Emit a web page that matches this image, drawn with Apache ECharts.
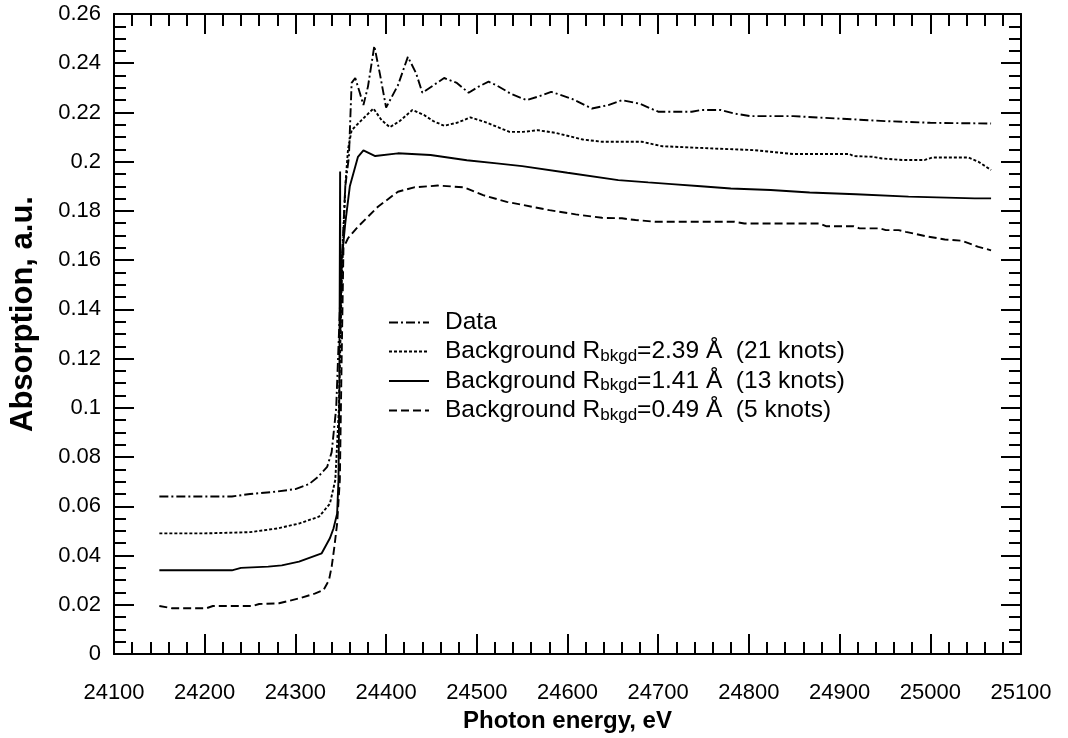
<!DOCTYPE html>
<html>
<head>
<meta charset="utf-8">
<script src="https://cdn.jsdelivr.net/npm/echarts@6/dist/echarts.min.js"></script>
<style>html,body{margin:0;padding:0;background:#fff}#c{width:1068px;height:738px}</style>
</head>
<body>
<div id="c"></div>
<script>
// ---- data (photon energy in eV, absorption in a.u.) ----
const seriesNames = [
  'Data',
  'Background Rbkgd=2.39 Å  (21 knots)',
  'Background Rbkgd=1.41 Å  (13 knots)',
  'Background Rbkgd=0.49 Å  (5 knots)'
];
const dataE = [24150,24200,24230,24250,24280,24300,24315,24325,24335,24340,24345,24350,24355,24359,24362,24366,24371,24375,24380,24387,24393,24400,24413,24424,24433,24440,24452,24464,24478,24491,24502,24513,24522,24538,24555,24568,24582,24605,24627,24645,24660,24680,24700,24737,24747,24769,24785,24802,24849,24900,24950,25000,25067];
const dataV = [0.064,0.064,0.064,0.065,0.066,0.067,0.069,0.072,0.076,0.082,0.1,0.15,0.19,0.202,0.232,0.234,0.228,0.223,0.2305,0.247,0.236,0.222,0.231,0.2426,0.236,0.228,0.231,0.234,0.232,0.228,0.2305,0.2325,0.231,0.2275,0.225,0.2265,0.2284,0.2255,0.2216,0.223,0.225,0.2235,0.2203,0.2203,0.221,0.221,0.2195,0.2185,0.2185,0.2175,0.2165,0.2158,0.2155];

const bg21E = [24150,24200,24250,24280,24304,24326,24338,24344,24348,24351,24355,24358,24362,24373,24386,24395,24404,24415,24429,24442,24452,24464,24478,24493,24510,24522,24536,24551,24567,24587,24617,24638,24682,24704,24758,24806,24849,24911,24915,24936,24947,24969,24994,25002,25042,25053,25067];
const bg21V = [0.049,0.049,0.0495,0.051,0.053,0.0558,0.061,0.0707,0.1,0.15,0.19,0.205,0.2128,0.2169,0.2216,0.2169,0.214,0.2165,0.221,0.2189,0.2165,0.2146,0.2158,0.218,0.216,0.2142,0.2121,0.2121,0.2128,0.2117,0.209,0.2081,0.2081,0.2063,0.2054,0.2047,0.2031,0.2031,0.2023,0.202,0.2013,0.2007,0.2007,0.2017,0.2017,0.200,0.1966];

const bg13E = [24150,24230,24240,24270,24285,24304,24329,24338,24342,24346,24347.5,24348.5,24349.3,24349.6,24351,24355,24360,24369,24375,24388,24413,24449,24489,24522,24550,24600,24656,24689,24715,24747,24780,24824,24867,24918,24976,25049,25067];
const bg13V = [0.034,0.034,0.035,0.0355,0.036,0.0375,0.0409,0.047,0.051,0.057,0.0707,0.11,0.196,0.13,0.16,0.175,0.19,0.202,0.2046,0.2023,0.2034,0.2027,0.2006,0.1993,0.1982,0.1955,0.1925,0.1916,0.1909,0.190,0.1891,0.1885,0.1875,0.1868,0.1858,0.1851,0.1851];

const bg5E = [24150,24164,24202,24209,24253,24260,24282,24304,24322,24331,24337,24340,24343,24346,24349,24351,24353,24358,24369,24391,24413,24431,24457,24486,24507,24533,24551,24580,24609,24638,24660,24675,24697,24784,24795,24878,24885,24915,24922,24944,24951,24965,24973,24994,25016,25035,25053,25067];
const bg5V = [0.0195,0.0186,0.0186,0.0195,0.0195,0.0203,0.0206,0.0226,0.0246,0.026,0.03,0.0355,0.0436,0.053,0.0707,0.12,0.165,0.1689,0.1736,0.1817,0.1878,0.1896,0.1903,0.1896,0.1864,0.1837,0.1824,0.1803,0.1786,0.1772,0.177,0.1763,0.1756,0.1756,0.1749,0.1749,0.1738,0.1738,0.1729,0.1729,0.1722,0.1722,0.1715,0.1698,0.1684,0.1679,0.1654,0.164];

const xMin = 24100, xMax = 25100, xStep = 100;
const yMin = 0, yMax = 0.26, yStep = 0.02;

// ---- chart ----
const FONT = 'Liberation Sans';
const pairs = (E, V) => E.map((e, i) => [e, V[i]]);
const lineTypes = [[9,3,2,3], [3,2], 'solid', [8,4]];
const sets = [[dataE, dataV], [bg21E, bg21V], [bg13E, bg13V], [bg5E, bg5V]];

const frameLine = () => ({ show: true, onZero: false, lineStyle: { color: '#000', width: 2 } });
const tickCfg = () => ({ show: true, inside: true, length: 20, lineStyle: { color: '#000', width: 2 } });
const minorCfg = (n) => ({ show: true, splitNumber: n, length: 12, lineStyle: { color: '#000', width: 2 } });

const chart = echarts.init(document.getElementById('c'), null, { renderer: 'canvas' });
chart.setOption({
  animation: false,
  backgroundColor: '#fff',
  grid: { left: 113, right: 47, top: 14, bottom: 84, containLabel: false },
  xAxis: [{
    type: 'value', min: xMin, max: xMax, interval: xStep, position: 'bottom',
    name: 'Photon energy, eV', nameLocation: 'middle', nameGap: 53,
    nameTextStyle: { fontFamily: FONT, fontSize: 24, fontWeight: 'bold', color: '#000' },
    axisLine: frameLine(), axisTick: tickCfg(), minorTick: minorCfg(5),
    axisLabel: { fontFamily: FONT, fontSize: 22, color: '#000', margin: 28, formatter: (v) => String(v) },
    splitLine: { show: false }
  }, {
    type: 'value', min: xMin, max: xMax, interval: xStep, position: 'top',
    axisLine: frameLine(), axisTick: tickCfg(), minorTick: minorCfg(5),
    axisLabel: { show: false }, splitLine: { show: false }
  }],
  yAxis: [{
    type: 'value', min: yMin, max: yMax, interval: yStep, position: 'left',
    name: 'Absorption, a.u.', nameLocation: 'middle', nameGap: 75,
    nameTextStyle: { fontFamily: FONT, fontSize: 31, fontWeight: 'bold', color: '#000', padding: [0, 0, 0, 40] },
    axisLine: frameLine(), axisTick: tickCfg(), minorTick: minorCfg(4),
    axisLabel: { fontFamily: FONT, fontSize: 22, color: '#000', margin: 13 },
    splitLine: { show: false }
  }, {
    type: 'value', min: yMin, max: yMax, interval: yStep, position: 'right',
    axisLine: frameLine(), axisTick: tickCfg(), minorTick: minorCfg(4),
    axisLabel: { show: false }, splitLine: { show: false }
  }],
  legend: {
    show: true,
    orient: 'vertical', left: 383, top: 305,
    itemWidth: 40, itemHeight: 14, itemGap: 4,
    data: seriesNames,
    itemStyle: { opacity: 0 },
    formatter: (name) => {
      if (name.indexOf('Rbkgd') < 0) return '{f|' + name + '}';
      const parts = name.split('Rbkgd');
      return '{f|' + parts[0] + 'R}{s|bkgd}{a|' + parts[1] + '}';
    },
    textStyle: {
      fontFamily: FONT, color: '#000', fontSize: 24,
      rich: {
        f: { fontFamily: FONT, fontSize: 24.5, color: '#000', lineHeight: 26, padding: [0, 0, 0, 11] },
        a: { fontFamily: FONT, fontSize: 24.5, color: '#000', lineHeight: 26 },
        s: { fontFamily: FONT, fontSize: 17, color: '#000', lineHeight: 14, verticalAlign: 'bottom' }
      }
    }
  },
  series: sets.map((s, i) => ({
    name: seriesNames[i],
    type: 'line',
    data: pairs(s[0], s[1]),
    showSymbol: false, symbol: 'none', symbolSize: 0,
    smooth: false,
    lineStyle: { color: '#000', width: 1.9, type: lineTypes[i] },
    itemStyle: { color: '#000' },
    z: 3
  }))
});
</script>
</body>
</html>
